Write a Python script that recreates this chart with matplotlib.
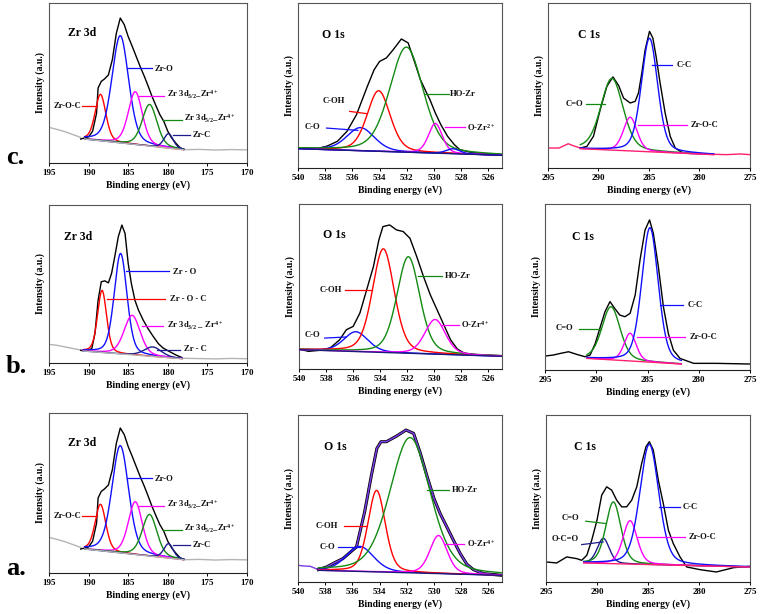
import numpy as np
import matplotlib
matplotlib.use("Agg")
import matplotlib.pyplot as plt

plt.rcParams['font.family'] = ['Liberation Serif', 'DejaVu Serif']
plt.rcParams['font.weight'] = 'bold'
plt.rcParams['mathtext.fontset'] = 'custom'
plt.rcParams['mathtext.rm'] = 'Liberation Serif:bold'
plt.rcParams['mathtext.it'] = 'Liberation Serif:bold'
plt.rcParams['mathtext.bf'] = 'Liberation Serif:bold'

# ======================= DATA =======================
# ---- Zr 3d, rows a and c (same spectrum) ----
zr_ac_tailL_E = [195.0, 194.0, 193.0, 192.0, 191.0]
zr_ac_tailL_I = [22.3, 21.0, 19.6, 17.8, 16.0]
zr_ac_raw_E = [191.0, 190.0, 189.5, 189.0, 188.8, 188.4, 188.0, 187.5, 187.0, 186.5,
               186.0, 185.5, 185.0, 184.5, 184.0, 183.5, 183.0, 182.5, 182.0, 181.5,
               181.0, 180.5, 180.0, 179.5, 179.0, 178.5, 178.0]
zr_ac_raw_I = [15.0, 16.3, 19.8, 31.0, 46.9, 51.0, 52.5, 55.0, 64.6, 81.0,
               90.6, 86.5, 79.0, 73.0, 66.7, 60.4, 54.6, 48.3, 41.7, 35.8,
               30.2, 26.0, 19.8, 15.6, 12.5, 9.8, 8.3]
zr_ac_tailR_E = [178.0, 176.0, 174.0, 172.0, 170.0]
zr_ac_tailR_I = [8.3, 8.5, 8.1, 8.4, 8.2]
zr_ac_bg = [(190.5, 15.0), (178.0, 8.3)]
zr_ac_labels = ["Zr-O-C", "Zr-O", r"Zr 3d$_{3/2}$_Zr$^{4+}$", r"Zr 3d$_{5/2}$_Zr$^{4+}$", "Zr-C"]
zr_ac_center = [188.5, 186.0, 184.1, 182.3, 179.9]
zr_ac_height = [29.0, 67.0, 33.0, 26.0, 9.0]
zr_ac_fwhm = [1.6, 2.5, 2.1, 2.2, 1.4]

# ---- Zr 3d, row b ----
zr_b_tailL_E = [195.0, 194.0, 193.0, 192.0, 191.0]
zr_b_tailL_I = [11.8, 11.2, 10.2, 9.2, 8.2]
zr_b_raw_E = [191.0, 190.3, 189.6, 189.2, 188.8, 188.4, 187.95, 187.5, 187.1, 186.7,
              186.25, 185.8, 185.4, 185.0, 184.6, 184.15, 183.7, 183.1, 182.5, 181.8,
              181.2, 180.6, 179.7, 178.9, 178.2]
zr_b_raw_I = [8.0, 7.6, 9.1, 18.6, 39.7, 51.4, 52.0, 50.7, 56.7, 67.2,
              79.9, 87.3, 82.0, 63.0, 50.3, 39.7, 33.4, 27.1, 21.8, 16.5,
              12.3, 9.5, 7.0, 4.9, 3.4]
zr_b_tailR_E = [178.2, 176.0, 174.0, 172.0, 170.0]
zr_b_tailR_I = [3.0, 2.8, 2.6, 2.9, 2.7]
zr_b_bg = [(190.7, 7.6), (178.2, 2.7)]
zr_b_labels = ["Zr - O - C", "Zr - O", r"Zr 3d$_{3/2}$ _ Zr$^{4+}$", "Zr - C"]
zr_b_center = [188.3, 185.96, 184.5, 181.9]
zr_b_height = [39.3, 63.6, 25.0, 6.0]
zr_b_fwhm = [1.35, 1.9, 2.4, 2.6]

# ---- O 1s, row c ----
o_c_raw_E = [540.0, 538.6, 537.9, 537.1, 536.4, 535.7, 534.9, 534.4, 534.0, 533.5,
             533.0, 532.4, 531.9, 531.4, 531.0, 530.6, 530.3, 529.9, 529.5, 529.0,
             528.5, 528.1, 527.3, 526.4, 525.0]
o_c_raw_I = [12.1, 11.7, 13.1, 16.2, 22.2, 32.3, 49.5, 59.6, 64.6, 66.7,
             71.7, 78.2, 75.8, 63.6, 53.5, 46.5, 41.4, 33.3, 26.3, 19.2,
             14.1, 11.1, 9.5, 8.7, 8.1]
o_c_bg = [(540.0, 11.7), (525.0, 7.7)]
o_c_labels = ["C-O", "C-OH", "HO-Zr", r"O-Zr$^{2+}$", ""]
o_c_center = [535.4, 534.07, 532.03, 529.9, 528.6]
o_c_height = [14.0, 36.7, 63.7, 18.0, 3.0]
o_c_fwhm = [2.4, 2.0, 2.9, 1.2, 1.2]

# ---- O 1s, row b ----
o_b_raw_E = [540.0, 539.3, 538.5, 537.7, 537.0, 536.5, 536.0, 535.5, 535.0, 534.5,
             534.1, 533.8, 533.3, 532.8, 532.3, 531.8, 531.3, 530.8, 530.3, 529.8,
             529.3, 528.8, 528.3, 527.8, 526.9, 525.0]
o_b_raw_I = [12.1, 10.7, 11.3, 12.7, 17.7, 23.8, 25.8, 33.9, 48.0, 62.1,
             78.2, 86.3, 87.3, 84.3, 83.3, 79.2, 68.1, 56.0, 45.0, 35.9,
             26.8, 17.7, 12.1, 9.7, 8.7, 8.1]
o_b_bg = [(540.0, 11.7), (525.0, 7.7)]
o_b_labels = ["C-O", "C-OH", "HO-Zr", r"O-Zr$^{4+}$"]
o_b_center = [535.8, 533.77, 531.92, 529.94]
o_b_height = [12.0, 62.8, 58.5, 21.0]
o_b_fwhm = [2.1, 1.9, 2.0, 1.8]

# ---- O 1s, row a (black = measured, purple = fitted envelope on the data) ----
o_a_tailL_E = [540.0, 539.6, 539.1, 538.5]
o_a_tailL_I = [10.0, 9.6, 9.4, 7.4]
o_a_raw_E = [538.5, 537.9, 537.2, 536.7, 535.7, 535.1, 534.6, 534.2, 533.9, 533.5,
             532.75, 532.06, 531.5, 531.0, 530.5, 530.0, 529.55, 529.06, 528.57, 528.07,
             527.58, 527.1, 526.35, 525.0]
o_a_raw_I = [7.4, 9.0, 12.0, 14.0, 21.0, 42.0, 64.0, 80.0, 84.0, 84.0,
             87.4, 91.0, 89.0, 77.0, 63.0, 50.0, 41.0, 33.0, 25.0, 17.0,
             10.6, 7.4, 5.0, 4.0]
o_a_bg = [(538.5, 7.0), (525.0, 4.0)]
o_a_labels = ["C-O", "C-OH", "HO-Zr", r"O-Zr$^{4+}$"]
o_a_center = [535.45, 534.22, 531.76, 529.67]
o_a_height = [15.0, 48.8, 81.0, 22.8]
o_a_fwhm = [2.4, 1.5, 3.5, 1.5]

# ---- C 1s, row c ----
c_c_tailL_E = [295.0, 293.9, 293.0, 292.5, 291.8]
c_c_tailL_I = [12.1, 12.1, 14.7, 13.5, 12.1]
c_c_raw_E = [291.8, 291.15, 290.5, 289.83, 289.17, 288.57, 288.0, 287.52, 286.86, 286.37,
             286.04, 285.71, 285.38, 284.95, 284.62, 284.3, 283.9, 283.4, 282.9, 282.4,
             281.75, 281.0, 279.9, 278.6]
c_c_raw_I = [12.1, 13.1, 19.2, 35.4, 49.5, 55.2, 49.9, 42.4, 39.4, 40.4,
             45.5, 57.6, 71.7, 82.8, 78.8, 67.7, 51.5, 33.3, 19.2, 12.1,
             9.5, 8.8, 8.7, 8.3]
c_c_tailR_E = [278.6, 277.3, 276.0, 275.0]
c_c_tailR_I = [8.3, 8.1, 8.5, 8.1]
c_c_bg = [(291.8, 11.7), (278.6, 8.1)]
c_c_labels = ["C=O", "Zr-O-C", "C-C"]
c_c_center = [288.67, 286.86, 284.95]
c_c_height = [43.5, 20.4, 68.8]
c_c_fwhm = [2.6, 1.6, 1.9]

# ---- C 1s, row b ----
c_b_raw_E = [295.0, 294.2, 293.5, 292.7, 291.9, 291.1, 290.6, 290.1, 289.6, 289.15,
             288.66, 288.2, 287.7, 287.2, 286.7, 286.2, 285.73, 285.24, 284.8, 284.43,
             283.94, 283.45, 282.97, 282.48, 281.83, 280.5, 278.25, 275.0]
c_b_raw_I = [8.4, 9.0, 10.0, 11.0, 9.4, 8.0, 9.0, 16.0, 26.1, 35.1,
             41.2, 37.1, 33.1, 32.1, 34.1, 45.2, 66.3, 84.3, 90.4, 82.3,
             62.2, 38.2, 22.1, 12.0, 7.0, 4.0, 4.0, 3.6]
c_b_bg = [(290.9, 7.0), (281.7, 3.6)]
c_b_labels = ["C=O", "Zr-O-C", "C-C"]
c_b_center = [288.56, 286.7, 284.76]
c_b_height = [32.0, 16.7, 81.0]
c_b_fwhm = [2.1, 1.4, 1.9]

# ---- C 1s, row a ----
c_a_raw_E = [295.0, 293.95, 292.97, 291.99, 291.5, 291.0, 290.52, 290.0, 289.54, 289.05,
             288.56, 288.07, 287.58, 287.09, 286.6, 286.1, 285.62, 285.2, 284.87, 284.48,
             283.99, 283.5, 283.0, 282.52, 281.86, 281.2, 279.9, 278.3, 276.6, 275.0]
c_a_raw_I = [12.0, 11.4, 15.0, 14.0, 13.0, 16.0, 25.0, 37.0, 52.0, 57.0,
             55.0, 49.0, 45.0, 45.0, 49.0, 57.0, 71.0, 81.0, 84.0, 79.0,
             61.0, 47.0, 31.0, 23.0, 15.0, 9.0, 7.4, 6.0, 8.6, 9.4]
c_a_bg = [(291.3, 11.4), (275.0, 9.0)]
c_a_labels = ["O-C=O", "C=O", "Zr-O-C", "C-C"]
c_a_center = [289.38, 288.4, 286.76, 284.87]
c_a_height = [15.0, 37.0, 26.0, 72.0]
c_a_fwhm = [1.4, 1.75, 1.65, 2.2]

zr_ticks = [195, 190, 185, 180, 175, 170]
o_ticks = [540, 538, 536, 534, 532, 530, 528, 526]
c_ticks = [295, 290, 285, 280, 275]
row_letters = ["c.", "b.", "a."]

# ======================= STYLE =======================
RED = '#ff0000'; BLUE = '#1010ff'; GREEN = '#138a13'; MAG = '#ff00ff'
NAVY = '#1c1c8c'; GRAY = '#b4b4b4'; PINK = '#ff1f70'; PURPLE = '#7a3ce6'
BGNAVY = '#1a1a7a'
GL_MIX = 0.3   # Lorentzian fraction of the Gaussian-Lorentzian line shape

W, H = 760, 614
fig = plt.figure(figsize=(7.6, 6.14), dpi=100)


def add_ax(l, r, t, b):
    return fig.add_axes([l / W, 1 - b / H, (r - l) / W, (b - t) / H])


def peak(x, c, h, w):
    u = (x - c) / w
    return h * ((1 - GL_MIX) * np.exp(-4 * np.log(2) * u ** 2) + GL_MIX / (1 + 4 * u ** 2))


def draw_panel(ax, xlim, ticks, title, title_pos, segments, bg, bgcolor,
               centers, heights, fwhms, colors, annots):
    for E, I, col, lw in segments:
        ax.plot(E, I, color=col, lw=lw, zorder=2)
    (x0, y0), (x1, y1) = bg
    xg = np.linspace(x0, x1, 500)
    base = np.interp(xg, [x1, x0], [y1, y0])
    for c, h, w, col in zip(centers, heights, fwhms, colors):
        ax.plot(xg, base + peak(xg, c, h, w), color=col, lw=1.0, zorder=3)
    ax.plot([x0, x1], [y0, y1], color=bgcolor, lw=1.0, zorder=4)
    for text, tx, ty, ha, lx0, ly0, lx1, ly1, col in annots:
        ax.plot([lx0, lx1], [ly0, ly1], color=col, lw=0.9, zorder=5)
        ax.text(tx, ty, text, ha=ha, va='center', fontsize=6.2,
                fontweight='bold', color='#111111', zorder=6)
    ax.text(title_pos[0], title_pos[1], title, ha='left', va='center',
            fontsize=8.5, fontweight='bold')
    ax.set_xlim(*xlim)
    ax.set_ylim(0, 100)
    ax.set_xticks(ticks)
    ax.set_xticklabels([str(t) for t in ticks], fontsize=6.5, fontweight='bold')
    ax.set_yticks([])
    ax.tick_params(axis='x', direction='out', length=2.5, width=0.7, pad=2)
    for sp in ax.spines.values():
        sp.set_color('#555555')
        sp.set_linewidth(0.8)
    ax.spines['bottom'].set_color('#222222')
    ax.set_xlabel('Binding energy (eV)', fontsize=7, fontweight='bold', labelpad=2)
    ax.set_ylabel('Intensity (a.u.)', fontsize=7, fontweight='bold', labelpad=3)


zr_ac_annots = [
    (zr_ac_labels[0], 190.9, 35.4, 'right', 190.8, 35.4, 189.0, 35.4, RED),
    (zr_ac_labels[1], 181.7, 58.8, 'left', 185.2, 59.4, 182.0, 59.4, BLUE),
    (zr_ac_labels[2], 180.1, 42.7, 'left', 183.6, 41.7, 180.5, 41.7, MAG),
    (zr_ac_labels[3], 178.0, 27.5, 'left', 180.6, 27.0, 178.2, 27.0, GREEN),
    (zr_ac_labels[4], 176.9, 17.3, 'left', 179.3, 17.7, 177.2, 17.7, NAVY)]
zr_ac_segments = [(zr_ac_tailL_E, zr_ac_tailL_I, GRAY, 1.0),
                  (zr_ac_raw_E, zr_ac_raw_I, 'black', 1.0),
                  (zr_ac_tailR_E, zr_ac_tailR_I, GRAY, 1.0)]

# ---------------- Row c (top) ----------------
ax = add_ax(49, 247, 3, 163)
draw_panel(ax, (195, 170), zr_ticks, 'Zr 3d', (192.6, 81), zr_ac_segments,
           zr_ac_bg, GRAY, zr_ac_center, zr_ac_height, zr_ac_fwhm,
           [RED, BLUE, MAG, GREEN, NAVY], zr_ac_annots)

ax = add_ax(298, 502, 3, 168)
draw_panel(ax, (540, 525), o_ticks, 'O 1s', (538.2, 80.8),
           [(o_c_raw_E, o_c_raw_I, 'black', 1.0),
            (o_c_raw_E[:3], o_c_raw_I[:3], BGNAVY, 1.0),
            (o_c_raw_E[-3:], o_c_raw_I[-3:], BGNAVY, 1.0)],
           o_c_bg, BGNAVY, o_c_center, o_c_height, o_c_fwhm,
           [BLUE, RED, GREEN, MAG, BLUE],
           [(o_c_labels[0], 539.5, 24.6, 'left', 537.9, 24.2, 535.6, 22.8, BLUE),
            (o_c_labels[1], 538.16, 40.4, 'left', 536.2, 34.3, 534.9, 32.9, RED),
            (o_c_labels[2], 528.8, 45.0, 'left', 530.76, 45.0, 528.9, 45.0, GREEN),
            (o_c_labels[3], 527.6, 24.6, 'left', 529.2, 24.6, 527.7, 24.6, MAG)])

ax = add_ax(548, 750, 3, 168)
draw_panel(ax, (295, 275), c_ticks, 'C 1s', (292.0, 80.8),
           [(c_c_tailL_E, c_c_tailL_I, PINK, 1.0), (c_c_raw_E, c_c_raw_I, 'black', 1.0),
            (c_c_tailR_E, c_c_tailR_I, PINK, 1.0)],
           c_c_bg, PINK, c_c_center, c_c_height, c_c_fwhm,
           [GREEN, MAG, BLUE],
           [(c_c_labels[0], 293.3, 38.8, 'left', 291.2, 38.8, 289.4, 38.8, GREEN),
            (c_c_labels[1], 280.9, 25.9, 'left', 286.04, 25.9, 281.26, 25.9, MAG),
            (c_c_labels[2], 282.3, 62.2, 'left', 284.7, 62.2, 282.7, 62.2, BLUE)])

# ---------------- Row b (middle) ----------------
ax = add_ax(49, 247, 205, 363)
draw_panel(ax, (195, 170), zr_ticks, 'Zr 3d', (193.1, 80),
           [(zr_b_tailL_E, zr_b_tailL_I, GRAY, 1.0), (zr_b_raw_E, zr_b_raw_I, 'black', 1.0),
            (zr_b_tailR_E, zr_b_tailR_I, GRAY, 1.0)],
           zr_b_bg, GRAY, zr_b_center, zr_b_height, zr_b_fwhm,
           [RED, BLUE, MAG, NAVY],
           [(zr_b_labels[0], 179.7, 40.8, 'left', 187.65, 40.8, 180.35, 40.8, RED),
            (zr_b_labels[1], 179.3, 57.7, 'left', 185.3, 58.1, 179.9, 58.1, BLUE),
            (zr_b_labels[2], 180.1, 23.3, 'left', 183.3, 23.3, 180.56, 23.3, MAG),
            (zr_b_labels[3], 178.0, 9.1, 'left', 181.4, 8.0, 178.4, 8.0, NAVY)])

ax = add_ax(299, 502, 204, 369)
draw_panel(ax, (540, 525), o_ticks, 'O 1s', (538.2, 81.3),
           [(o_b_raw_E, o_b_raw_I, 'black', 1.0)],
           o_b_bg, BGNAVY, o_b_center, o_b_height, o_b_fwhm,
           [BLUE, RED, GREEN, MAG],
           [(o_b_labels[0], 539.6, 20.8, 'left', 538.1, 18.75, 536.5, 19.4, BLUE),
            (o_b_labels[1], 538.47, 48.0, 'left', 536.6, 47.6, 534.6, 47.6, RED),
            (o_b_labels[2], 529.2, 56.5, 'left', 531.2, 56.5, 529.45, 56.5, GREEN),
            (o_b_labels[3], 528.0, 26.8, 'left', 529.45, 26.8, 528.2, 26.8, MAG)])

ax = add_ax(545, 750, 204, 370)
draw_panel(ax, (295, 275), c_ticks, 'C 1s', (292.4, 80.3),
           [(c_b_raw_E, c_b_raw_I, 'black', 1.0)],
           c_b_bg, PINK, c_b_center, c_b_height, c_b_fwhm,
           [GREEN, MAG, BLUE],
           [(c_b_labels[0], 294.0, 25.1, 'left', 291.65, 24.7, 289.5, 24.7, GREEN),
            (c_b_labels[1], 280.9, 20.1, 'left', 286.0, 20.1, 281.3, 20.1, MAG),
            (c_b_labels[2], 281.1, 39.2, 'left', 283.8, 39.2, 281.5, 39.2, BLUE)])

# ---------------- Row a (bottom) ----------------
ax = add_ax(49, 247, 413, 573)
draw_panel(ax, (195, 170), zr_ticks, 'Zr 3d', (192.6, 81), zr_ac_segments,
           zr_ac_bg, GRAY, zr_ac_center, zr_ac_height, zr_ac_fwhm,
           [RED, BLUE, MAG, GREEN, NAVY], zr_ac_annots)

ax = add_ax(298, 502, 415, 582)
draw_panel(ax, (540, 525), o_ticks, 'O 1s', (538.1, 81),
           [(o_a_tailL_E, o_a_tailL_I, PURPLE, 1.0),
            (o_a_raw_E, o_a_raw_I, 'black', 2.2),
            (o_a_raw_E, o_a_raw_I, PURPLE, 1.1)],
           o_a_bg, BGNAVY, o_a_center, o_a_height, o_a_fwhm,
           [BLUE, RED, GREEN, MAG],
           [(o_a_labels[0], 538.4, 21.0, 'left', 537.05, 21.0, 535.45, 21.0, BLUE),
            (o_a_labels[1], 538.7, 33.6, 'left', 536.6, 33.6, 534.96, 33.6, RED),
            (o_a_labels[2], 528.7, 55.0, 'left', 530.53, 55.0, 528.93, 55.0, GREEN),
            (o_a_labels[3], 527.6, 23.0, 'left', 529.2, 23.0, 527.8, 23.0, MAG)])

ax = add_ax(546, 750, 415, 582)
draw_panel(ax, (295, 275), c_ticks, 'C 1s', (292.25, 81),
           [(c_a_raw_E, c_a_raw_I, 'black', 1.0)],
           c_a_bg, PINK, c_a_center, c_a_height, c_a_fwhm,
           [NAVY, GREEN, MAG, BLUE],
           [(c_a_labels[0], 294.45, 26.0, 'left', 291.5, 22.4, 289.4, 24.0, NAVY),
            (c_a_labels[1], 293.5, 38.4, 'left', 291.1, 36.4, 289.1, 35.0, GREEN),
            (c_a_labels[2], 281.05, 27.0, 'left', 285.95, 27.0, 281.4, 27.0, MAG),
            (c_a_labels[3], 281.6, 45.0, 'left', 283.9, 45.0, 281.86, 45.0, BLUE)])

# Row letters
for letter, ybase in zip(row_letters, [164, 373, 575]):
    fig.text(6 / W, 1 - ybase / H, letter, fontsize=19, fontweight='bold',
             ha='left', va='baseline')

fig.savefig('out.png', dpi=100)
